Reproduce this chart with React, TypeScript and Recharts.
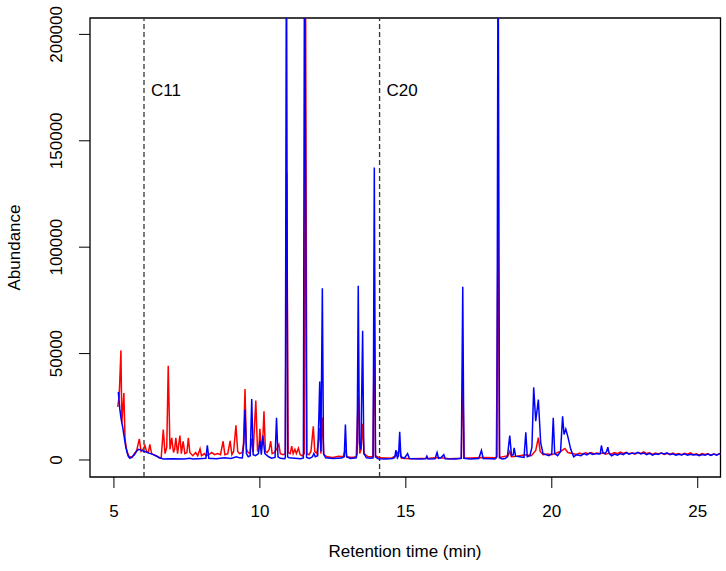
import React from 'react';
import { LineChart, Line, XAxis, YAxis, ReferenceLine, ReferenceArea } from 'recharts';

// retention time (min) and abundance
const redTime = [
  5.13, 5.18, 5.24, 5.27, 5.34, 5.38, 5.43, 5.5, 5.55, 5.62, 5.7, 5.78, 5.87, 5.93, 6.0, 6.06, 6.12, 6.18, 6.23, 6.29,
  6.35, 6.45, 6.55, 6.62, 6.69, 6.75, 6.81, 6.86, 6.92, 6.98, 7.04, 7.08, 7.12, 7.18, 7.26, 7.31, 7.37, 7.43, 7.5, 7.55,
  7.6, 7.7, 7.8, 7.87, 7.95, 8.0, 8.1, 8.15, 8.25, 8.35, 8.45, 8.55, 8.65, 8.74, 8.8, 8.9, 8.98, 9.04, 9.1, 9.18,
  9.24, 9.3, 9.4, 9.44, 9.49, 9.54, 9.6, 9.66, 9.72, 9.77, 9.86, 9.92, 9.97, 10.0, 10.05, 10.1, 10.14, 10.19, 10.25, 10.32,
  10.37, 10.42, 10.5, 10.57, 10.65, 10.7, 10.8, 10.87, 10.92, 10.97, 11.04, 11.09, 11.14, 11.2, 11.25, 11.32, 11.38, 11.45, 11.52, 11.56,
  11.61, 11.68, 11.75, 11.83, 11.88, 11.95, 12.02, 12.05, 12.09, 12.14, 12.19, 12.3, 12.5, 12.7, 12.85, 12.93, 12.98, 13.15, 13.3, 13.37,
  13.42, 13.47, 13.52, 13.57, 13.7, 13.87, 13.92, 13.96, 14.1, 14.5, 14.66, 14.79, 14.85, 15.2, 15.8, 16.1, 16.5, 16.9, 16.95, 17.0,
  17.6, 18.1, 18.16, 18.21, 18.5, 18.56, 18.62, 18.8, 19.1, 19.3, 19.45, 19.54, 19.6, 19.7, 19.85, 20.0, 20.1, 20.2, 20.3, 20.45,
  20.55, 20.7, 20.85, 20.95, 21.05, 21.15, 21.25, 21.35, 21.45, 21.55, 21.65, 21.75, 21.85, 21.95, 22.05, 22.15, 22.25, 22.35, 22.45, 22.55,
  22.65, 22.75, 22.85, 22.95, 23.05, 23.15, 23.25, 23.35, 23.45, 23.55, 23.65, 23.75, 23.85, 23.95, 24.05, 24.15, 24.25, 24.35, 24.45, 24.55,
  24.65, 24.75, 24.85, 24.95, 25.05, 25.15, 25.25, 25.35, 25.45, 25.55, 25.65, 25.78,
];
const redAbundance = [
  25000, 30000, 51500, 17400, 31500, 10000, 5000, 2000, 1500, 1200, 3000, 4500, 9900, 4000, 5000, 6800, 4000, 3500, 7300, 3000,
  2500, 2000, 1000, 1200, 14300, 3000, 6000, 44300, 5000, 10400, 3500, 5000, 10400, 3000, 11500, 3000, 8800, 3000, 3500, 10400,
  3500, 2000, 3500, 2000, 5200, 2000, 3000, 2000, 2500, 3500, 2500, 3000, 2500, 8800, 2500, 3000, 9000, 2500, 4000, 16300,
  4000, 3000, 3500, 8000, 33400, 5000, 3500, 3000, 10000, 3500, 27900, 4000, 6000, 14600, 5000, 10000, 22900, 4000, 3500, 5000,
  8800, 3000, 3500, 5000, 7300, 3000, 2500, 3000, 135000, 3500, 3000, 6500, 3000, 5000, 3000, 5500, 2500, 2000, 3000, 250000,
  3000, 2500, 4000, 15800, 4000, 3000, 10000, 15000, 3000, 20000, 2500, 1500, 1200, 1800, 1500, 5000, 1500, 1200, 1500, 30000,
  3000, 5000, 17000, 3000, 1500, 1500, 60000, 2000, 1000, 800, 2000, 5000, 800, 600, 800, 1200, 600, 800, 40000, 800,
  1200, 1000, 110000, 1200, 2000, 4000, 1500, 1800, 2500, 2000, 4500, 10500, 4000, 2500, 2800, 2500, 3000, 3500, 4000, 5400,
  3500, 3000, 2600, 3200, 2700, 3400, 2900, 3500, 2800, 3300, 2900, 3300, 2700, 3200, 2800, 3500, 3000, 3700, 3100, 3600,
  2900, 3400, 2700, 3500, 3100, 3800, 3000, 3400, 2600, 3200, 2800, 3300, 2600, 3000, 2700, 3200, 2600, 3000, 2500, 3100,
  2700, 3300, 2500, 2900, 2400, 3000, 2600, 2900, 2300, 2800, 2500, 2900,
];

const blueTime = [
  5.15, 5.2, 5.25, 5.3, 5.35, 5.4, 5.45, 5.5, 5.55, 5.6, 5.7, 5.8, 5.85, 5.95, 6.05, 6.2, 6.35, 6.5, 6.6, 6.7,
  7.0, 7.4, 7.6, 7.7, 7.9, 8.15, 8.2, 8.25, 8.5, 8.8, 9.0, 9.2, 9.3, 9.4, 9.45, 9.49, 9.54, 9.6, 9.67, 9.72,
  9.77, 9.85, 9.95, 10.0, 10.05, 10.1, 10.17, 10.3, 10.4, 10.52, 10.57, 10.62, 10.7, 10.85, 10.87, 10.91, 10.95, 11.0, 11.2, 11.4,
  11.49, 11.53, 11.6, 11.7, 11.8, 11.85, 11.9, 11.98, 12.02, 12.05, 12.09, 12.14, 12.18, 12.25, 12.5, 12.8, 12.89, 12.93, 12.97, 13.1,
  13.3, 13.33, 13.37, 13.41, 13.46, 13.52, 13.56, 13.65, 13.8, 13.88, 13.92, 13.96, 14.05, 14.3, 14.55, 14.62, 14.66, 14.71, 14.75, 14.79,
  14.83, 14.95, 15.06, 15.12, 15.5, 15.68, 15.72, 15.76, 16.0, 16.07, 16.12, 16.2, 16.3, 16.35, 16.7, 16.9, 16.95, 16.99, 17.2, 17.5,
  17.59, 17.65, 17.9, 18.05, 18.12, 18.16, 18.21, 18.3, 18.4, 18.48, 18.56, 18.62, 18.68, 18.71, 18.76, 18.9, 19.05, 19.11, 19.16, 19.25,
  19.32, 19.38, 19.45, 19.54, 19.62, 19.7, 19.8, 19.9, 20.0, 20.05, 20.1, 20.2, 20.3, 20.37, 20.42, 20.48, 20.55, 20.65, 20.75, 20.85,
  21.0, 21.1, 21.2, 21.3, 21.4, 21.5, 21.6, 21.66, 21.7, 21.75, 21.82, 21.88, 21.92, 21.97, 22.05, 22.15, 22.25, 22.35, 22.45, 22.55,
  22.65, 22.75, 22.85, 22.95, 23.05, 23.15, 23.25, 23.35, 23.45, 23.55, 23.65, 23.75, 23.85, 23.95, 24.05, 24.15, 24.25, 24.35, 24.45, 24.55,
  24.65, 24.75, 24.85, 24.95, 25.05, 25.15, 25.25, 25.35, 25.45, 25.55, 25.65, 25.78,
];
const blueAbundance = [
  32000, 24000, 19000, 15500, 11000, 6500, 3500, 1500, 800, 1200, 2500, 4500, 5000, 4500, 4000, 3200, 2500, 1500, 800, 500,
  600, 500, 800, 500, 600, 800, 6900, 800, 600, 1000, 700, 1500, 1000, 900, 8000, 23700, 3000, 1500, 2000, 28700,
  2500, 2000, 3000, 9000, 2500, 11500, 3000, 1500, 800, 1200, 19800, 1500, 800, 600, 1000, 260000, 1500, 1000, 800, 600,
  1000, 260000, 1200, 700, 1500, 3000, 1500, 2000, 20000, 36900, 4000, 80700, 3000, 1000, 700, 900, 1500, 16600, 1500, 700,
  1000, 3000, 81900, 8000, 5000, 60700, 3000, 1000, 800, 1000, 137500, 1500, 600, 500, 700, 1200, 4600, 1000, 2000, 13200,
  1500, 800, 3000, 700, 500, 600, 1800, 500, 600, 3500, 800, 1000, 2500, 600, 500, 800, 81400, 800, 500, 700,
  4500, 700, 600, 500, 1500, 260000, 1000, 500, 700, 1500, 11500, 2000, 2500, 5700, 1800, 1500, 1200, 13000, 1500, 2000,
  6000, 34100, 18200, 28400, 8000, 3000, 2500, 2000, 3000, 19800, 3000, 2000, 4000, 20500, 12000, 14500, 11000, 5000, 1500, 2500,
  2000, 3000, 2400, 3200, 2600, 3000, 2800, 3000, 6800, 3500, 3000, 4000, 6000, 3000, 2000, 2800, 2300, 3000, 2500, 3400,
  2700, 3200, 3000, 3600, 2800, 3300, 2500, 3100, 2300, 2900, 2600, 3300, 2800, 3400, 2500, 2900, 2300, 2700, 2400, 2900,
  2200, 2700, 2300, 2600, 2000, 2600, 2200, 2800, 2100, 2800, 2300, 3200,
];

const xTicks = [5, 10, 15, 20, 25];
const yTicks = [0, 50000, 100000, 150000, 200000];
const markers = [
  { t: 6.03, name: 'C11' },
  { t: 14.1, name: 'C20' },
];

const X_MIN = 4.18;
const X_MAX = 25.78;
const Y_MIN = -8000;
const Y_MAX = 207700;
const FONT = "'Liberation Sans', Arial, Helvetica, sans-serif";

const redData = redTime.map((t, i) => ({ t, v: redAbundance[i] }));
const blueData = blueTime.map((t, i) => ({ t, v: blueAbundance[i] }));

const YTick = (props: any) => {
  const { x, y, payload } = props;
  return (
    <text x={x} y={y} transform={`rotate(-90, ${x}, ${y})`} textAnchor="middle"
      fontSize={17} fill="#000" fontFamily={FONT}>
      {payload.value}
    </text>
  );
};

export default function App() {
  return (
    <div style={{ position: 'absolute', left: 0, top: 0, width: 726, height: 571, background: '#fff' }}>
      <LineChart width={726} height={571} margin={{ top: 18, right: 5.5, bottom: 0, left: 0 }}>
        <XAxis
          type="number"
          dataKey="t"
          domain={[X_MIN, X_MAX]}
          ticks={xTicks}
          allowDataOverflow
          height={94}
          axisLine={false}
          tickSize={11}
          tickMargin={17}
          tickLine={{ stroke: '#000' }}
          tick={{ fill: '#000', fontSize: 17, fontFamily: FONT }}
          label={{
            content: () => (
              <text x={405} y={557} textAnchor="middle" fontSize={17} fill="#000" fontFamily={FONT}>
                Retention time (min)
              </text>
            ),
          }}
        />
        <YAxis
          type="number"
          domain={[Y_MIN, Y_MAX]}
          ticks={yTicks}
          allowDataOverflow
          width={90}
          axisLine={false}
          tickSize={11}
          tickMargin={16.5}
          tickLine={{ stroke: '#000' }}
          tick={<YTick />}
          label={{
            content: () => (
              <text x={20} y={247.5} transform="rotate(-90, 20, 247.5)" textAnchor="middle"
                fontSize={17} fill="#000" fontFamily={FONT}>
                Abundance
              </text>
            ),
          }}
        />
        {markers.map((m) => (
          <ReferenceLine
            key={m.name}
            x={m.t}
            stroke="#333"
            strokeWidth={1.3}
            strokeDasharray="5 3"
            label={{
              content: (p: any) => (
                <text x={p.viewBox.x + 7} y={96} fontSize={17} fill="#000" fontFamily={FONT}>
                  {m.name}
                </text>
              ),
            }}
          />
        ))}
        <Line data={redData} dataKey="v" type="linear" stroke="#ff0000" strokeWidth={1.5}
          dot={false} activeDot={false} isAnimationActive={false} />
        <Line data={blueData} dataKey="v" type="linear" stroke="#0000ff" strokeWidth={1.5}
          dot={false} activeDot={false} isAnimationActive={false} />
        <ReferenceArea x1={X_MIN} x2={X_MAX} y1={Y_MIN} y2={Y_MAX} fill="none" stroke="#000"
          strokeWidth={1.3} ifOverflow="visible" />
      </LineChart>
    </div>
  );
}
